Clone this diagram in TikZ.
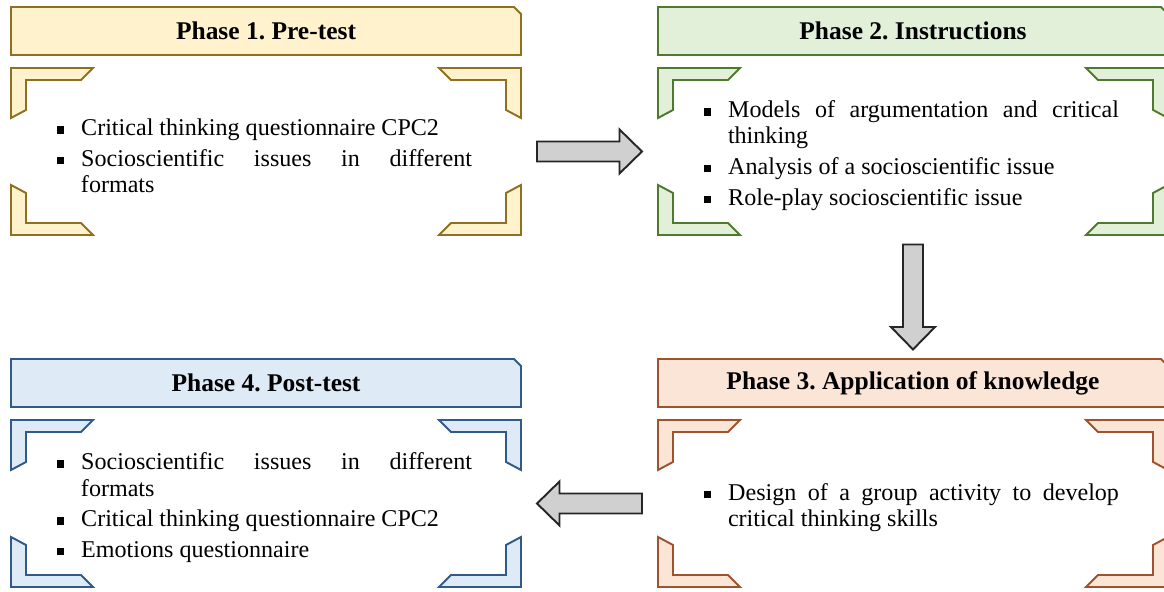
\documentclass[tikz,border=0pt]{standalone}
\usepackage{fontspec}
\setmainfont{Liberation Serif}
\usepackage{tikz}
\usetikzlibrary{positioning,calc,shapes.misc}
\definecolor{yelfill}{HTML}{FFF2CC}
\definecolor{yeldraw}{HTML}{8F7020}
\definecolor{grnfill}{HTML}{E2F0D9}
\definecolor{grndraw}{HTML}{4E7A30}
\definecolor{orgfill}{HTML}{FBE5D6}
\definecolor{orgdraw}{HTML}{A0522D}
\definecolor{blufill}{HTML}{DEEBF7}
\definecolor{bludraw}{HTML}{2F5A8A}
\definecolor{arrfill}{HTML}{D0D0D0}
\hyphenpenalty=10000
\exhyphenpenalty=10000
\tolerance=10000
\frenchspacing
\newenvironment{phaselist}{\begin{list}{\rule[0.1em]{0.3em}{0.3em}}{%
  \setlength{\leftmargin}{0.48cm}\setlength{\labelwidth}{0.14cm}%
  \setlength{\labelsep}{0.34cm}\setlength{\itemsep}{2.8pt}%
  \setlength{\parsep}{0pt}\setlength{\topsep}{0pt}\setlength{\partopsep}{0pt}}}%
  {\end{list}}

\begin{document}
\begin{tikzpicture}[
  outer sep=0pt,
  head/.style={chamfered rectangle,chamfered rectangle corners=north east,
    chamfered rectangle xsep=0.06cm,chamfered rectangle ysep=0.08cm,
    minimum width=10.2cm,minimum height=0.96cm,inner sep=0pt,line width=1.1pt,
    font=\bfseries\fontsize{14.5}{16}\selectfont},
  frame/.style={minimum width=10.2cm,minimum height=3.34cm,inner sep=0pt},
  body/.style={text width=8.3cm,align=justify,inner sep=0pt,
    font=\fontsize{13.7}{14.8}\selectfont},
  rim/.style={line width=1.1pt,line join=miter},
  blk/.style={draw=black!85,fill=arrfill,line width=1.1pt,line join=miter},
  corner/.pic={\path[pic actions] (0,0) -- (1.64,0) -- (1.40,-0.24) -- (0.30,-0.24)
    -- (0.30,-0.84) -- (0,-1.0) -- cycle;},
  blockarrow/.pic={\path[pic actions] (-1.05,0.2) -- (0.60,0.2) -- (0.60,0.44)
    -- (1.05,0) -- (0.60,-0.44) -- (0.60,-0.2) -- (-1.05,-0.2) -- cycle;},
]
\useasboundingbox (0,0) rectangle (23.28,11.84);

\node[head,draw=yeldraw,fill=yelfill,anchor=north west] (h1) at (0.22,11.70) {Phase 1. Pre-test};
\node[frame,below=0.26cm of h1] (f1) {};
\node[head,draw=grndraw,fill=grnfill,right=2.74cm of h1] (h2) {Phase 2. Instructions};
\node[frame,below=0.26cm of h2] (f2) {};
\node[head,draw=orgdraw,fill=orgfill,below=2.48cm of f2] (h3) {Phase 3. Application of knowledge};
\node[frame,below=0.26cm of h3] (f3) {};
\node[head,draw=bludraw,fill=blufill,left=2.74cm of h3] (h4) {Phase 4. Post-test};
\node[frame,below=0.26cm of h4] (f4) {};

\pic[rim,draw=yeldraw,fill=yelfill] at (f1.north west) {corner};
\pic[rim,draw=yeldraw,fill=yelfill,xscale=-1] at (f1.north east) {corner};
\pic[rim,draw=yeldraw,fill=yelfill,yscale=-1] at (f1.south west) {corner};
\pic[rim,draw=yeldraw,fill=yelfill,xscale=-1,yscale=-1] at (f1.south east) {corner};

\pic[rim,draw=grndraw,fill=grnfill] at (f2.north west) {corner};
\pic[rim,draw=grndraw,fill=grnfill,xscale=-1] at (f2.north east) {corner};
\pic[rim,draw=grndraw,fill=grnfill,yscale=-1] at (f2.south west) {corner};
\pic[rim,draw=grndraw,fill=grnfill,xscale=-1,yscale=-1] at (f2.south east) {corner};

\pic[rim,draw=orgdraw,fill=orgfill] at (f3.north west) {corner};
\pic[rim,draw=orgdraw,fill=orgfill,xscale=-1] at (f3.north east) {corner};
\pic[rim,draw=orgdraw,fill=orgfill,yscale=-1] at (f3.south west) {corner};
\pic[rim,draw=orgdraw,fill=orgfill,xscale=-1,yscale=-1] at (f3.south east) {corner};

\pic[rim,draw=bludraw,fill=blufill] at (f4.north west) {corner};
\pic[rim,draw=bludraw,fill=blufill,xscale=-1] at (f4.north east) {corner};
\pic[rim,draw=bludraw,fill=blufill,yscale=-1] at (f4.south west) {corner};
\pic[rim,draw=bludraw,fill=blufill,xscale=-1,yscale=-1] at (f4.south east) {corner};

\node[body,right=0.92cm of f1.west] (t1) {\begin{phaselist}
  \item Critical thinking questionnaire CPC2
  \item Socioscientific issues in different formats
\end{phaselist}};
\node[body,right=0.92cm of f2.west] (t2) {\begin{phaselist}
  \item Models of argumentation and critical thinking
  \item Analysis of a socioscientific issue
  \item Role-play socioscientific issue
\end{phaselist}};
\node[body,right=0.92cm of f3.west] (t3) {\begin{phaselist}
  \item Design of a group activity to develop critical thinking skills
\end{phaselist}};
\node[body,right=0.92cm of f4.west] (t4) {\begin{phaselist}
  \item Socioscientific issues in different formats
  \item Critical thinking questionnaire CPC2
  \item Emotions questionnaire
\end{phaselist}};

\pic[blk] at ($(f1.east)!0.5!(f2.west)$) {blockarrow};
\pic[blk,rotate=-90] at ($(f2.south)!0.5!(h3.north)$) {blockarrow};
\pic[blk,rotate=180] at ($(f3.west)!0.5!(f4.east)$) {blockarrow};
\end{tikzpicture}
\end{document}
